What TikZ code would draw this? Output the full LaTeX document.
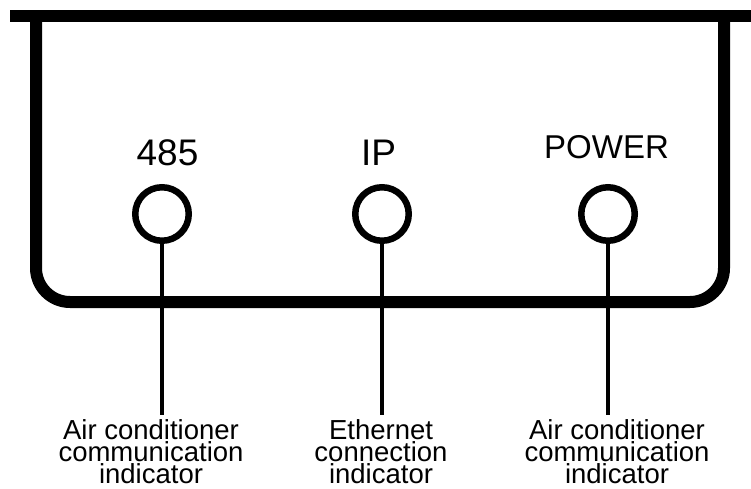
\documentclass[tikz,border=0pt]{standalone}
\usepackage{fontspec}
\setmainfont{Liberation Sans}
\usetikzlibrary{calc}

\begin{document}
\begin{tikzpicture}[x=1pt, y=-1pt,
    led/.style={draw, circle, line width=6.5pt, minimum size=53.5pt, inner sep=0pt},
    ledname/.style={anchor=base, inner sep=0pt, font=\fontsize{37}{44}\selectfont},
    desc/.style={anchor=north, inner sep=0pt, align=center, font=\fontsize{27.5}{22}\selectfont},
    stem/.style={line width=4pt}]
    \useasboundingbox (0,0) rectangle (751,489);

    % housing
    \draw[line width=12pt] (10,16) -- (751,16);
    \draw[line width=12pt, rounded corners=34pt] (36,16) -- (36,302) -- (724,302) -- (724,16);

    % indicators
    \node[led] (led485) at (162,214) {};
    \node[led] (ledip) at (382,214) {};
    \node[led] (ledpower) at (608,214) {};

    \node[ledname] (name485) at (167.5,165) {485};
    \node[ledname] (nameip) at (378.5,165) {IP};
    \node[ledname, font=\fontsize{33}{40}\selectfont] (namepower) at (606.5,158) {POWER};

    % leader lines
    \coordinate (end485) at (162,415);
    \coordinate (endip) at (382,415);
    \coordinate (endpower) at (608,415);
    \draw[stem] (led485) -- (end485);
    \draw[stem] (ledip) -- (endip);
    \draw[stem] (ledpower) -- (endpower);

    \node[desc] (desc485) at (151,419) {Air conditioner\\communication\\indicator};
    \node[desc] (descip) at (381,419) {Ethernet\\connection\\indicator};
    \node[desc] (descpower) at (617,419) {Air conditioner\\communication\\indicator};
\end{tikzpicture}
\end{document}
